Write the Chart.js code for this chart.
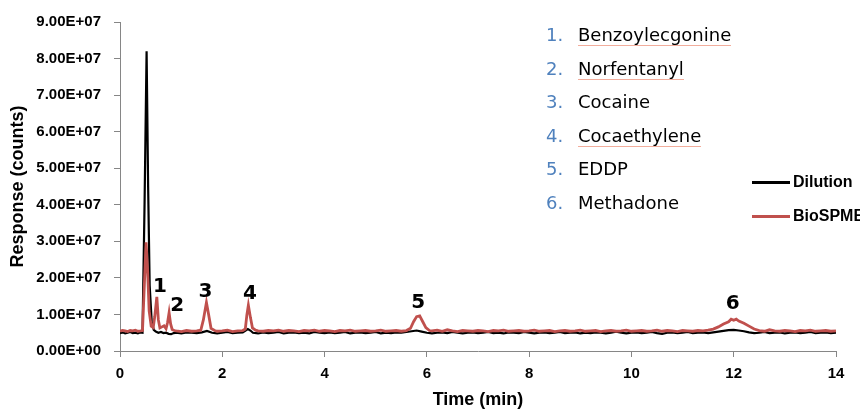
<!DOCTYPE html>
<html>
<head>
<meta charset="utf-8">
<title>Chromatogram</title>
<script src="https://cdn.jsdelivr.net/npm/chart.js@4.4.1/dist/chart.umd.min.js"></script>
<style>
  html, body { margin: 0; padding: 0; background: #fff; }
  #wrap { position: relative; width: 860px; height: 412px; overflow: hidden; }
  #chart { position: absolute; left: 0; top: 0; }
  .compounds {
    position: absolute; left: 546px; top: 18px; margin: 0; padding: 0; list-style: none;
    font-family: 'DejaVu Sans', Verdana, sans-serif; font-size: 18px; color: #000;
  }
  .compounds li { height: 33.6px; line-height: 33.6px; white-space: nowrap; }
  .compounds .num { display: inline-block; width: 32px; color: #4f81bd; }
  .squiggle { border-bottom: 1px solid #f2ad9c; }
  .legend-item {
    position: absolute; left: 752px; height: 24px; display: flex; align-items: center;
    white-space: nowrap; font: bold 16px 'Liberation Sans', Arial, sans-serif;
  }
  .legend-item .swatch { display: inline-block; width: 38px; height: 3px; margin-right: 3px; }
</style>
</head>
<body>
<div id="wrap">
  <canvas id="chart" width="860" height="412"></canvas>
  <ul class="compounds">
    <li><span class="num">1.</span><span class="squiggle">Benzoylecgonine</span></li>
    <li><span class="num">2.</span><span class="squiggle">Norfentanyl</span></li>
    <li><span class="num">3.</span>Cocaine</li>
    <li><span class="num">4.</span><span class="squiggle">Cocaethylene</span></li>
    <li><span class="num">5.</span>EDDP</li>
    <li><span class="num">6.</span>Methadone</li>
  </ul>
  <div class="legend-item" style="top:170px"><span class="swatch" style="background:#000"></span>Dilution</div>
  <div class="legend-item" style="top:204px"><span class="swatch" style="background:#c0504d"></span>BioSPME</div>
</div>
<script>
// time in min, response in millions of counts
const timeDilution = [
  0, 0.05, 0.1, 0.15, 0.2, 0.25, 0.3, 0.35, 0.4, 0.44, 0.48, 0.52, 0.55, 0.58, 0.62, 0.66,
  0.7, 0.75, 0.8, 0.85, 0.9, 0.95, 1.0, 1.05, 1.1, 1.2, 1.3, 1.4, 1.5, 1.6, 1.7, 1.8, 1.9,
  2.0, 2.1, 2.2, 2.3, 2.4, 2.5, 2.55, 2.6, 2.7, 2.8, 2.9, 3.0, 3.1, 3.2, 3.3, 3.4, 3.5, 3.6,
  3.7, 3.8, 3.9, 4.0, 4.1, 4.2, 4.3, 4.4, 4.5, 4.6, 4.7, 4.8, 4.9, 5.0, 5.1, 5.2, 5.3, 5.4,
  5.5, 5.6, 5.7, 5.8, 5.9, 6.0, 6.1, 6.2, 6.3, 6.4, 6.5, 6.6, 6.7, 6.8, 6.9, 7.0, 7.1, 7.2,
  7.3, 7.4, 7.5, 7.6, 7.7, 7.8, 7.9, 8.0, 8.1, 8.2, 8.3, 8.4, 8.5, 8.6, 8.7, 8.8, 8.9, 9.0,
  9.1, 9.2, 9.3, 9.4, 9.5, 9.6, 9.7, 9.8, 9.9, 10.0, 10.1, 10.2, 10.3, 10.4, 10.5, 10.6,
  10.7, 10.8, 10.9, 11.0, 11.1, 11.2, 11.3, 11.4, 11.5, 11.6, 11.7, 11.8, 11.9, 12.0, 12.1,
  12.2, 12.3, 12.4, 12.5, 12.6, 12.7, 12.8, 12.9, 13.0, 13.1, 13.2, 13.3, 13.4, 13.5, 13.6,
  13.7, 13.8, 13.9, 14.0
];
const respDilution = [
  4.9, 5.1, 4.8, 5.0, 5.2, 4.9, 5.0, 4.8, 5.1, 5.0, 40, 82, 45, 18, 8.0, 5.8,
  5.3, 5.0, 5.2, 4.9, 5.0, 4.7, 4.6, 4.9, 5.0, 4.8, 5.1, 5.0, 4.9, 5.1, 5.5, 5.0, 4.8,
  5.0, 5.2, 4.9, 5.0, 5.1, 6.0, 5.6, 5.0, 4.8, 5.1, 4.9, 5.0, 5.2, 4.8, 5.0, 5.1, 4.9, 5.0,
  4.8, 5.2, 5.0, 4.9, 5.1, 4.9, 5.0, 5.2, 4.8, 5.0, 5.1, 4.9, 5.0, 5.2, 4.8, 5.0, 4.9, 5.1,
  5.0, 5.2, 5.4, 5.6, 5.3, 5.0, 4.8, 5.0, 5.1, 4.9, 5.2, 5.0, 4.8, 5.0, 5.1, 4.9, 5.0, 5.2,
  4.9, 5.0, 4.8, 5.1, 5.0, 4.9, 5.2, 5.0, 4.8, 5.0, 5.1, 4.9, 5.0, 5.2, 4.9, 5.0, 5.1, 4.8,
  5.0, 4.9, 5.1, 5.0, 4.8, 5.0, 5.3, 5.0, 4.8, 5.0, 5.1, 4.9, 5.0, 5.2, 4.9, 4.7,
  5.0, 5.1, 4.9, 5.0, 5.2, 4.9, 5.0, 5.1, 4.9, 5.1, 5.3, 5.5, 5.7, 5.8, 5.6,
  5.4, 5.1, 4.9, 5.0, 5.2, 4.9, 5.0, 5.1, 4.8, 5.0, 5.1, 4.9, 5.0, 5.2, 4.9,
  5.0, 5.1, 4.9, 5.0
];
const timeBioSPME = [
  0, 0.05, 0.1, 0.15, 0.2, 0.25, 0.3, 0.35, 0.4, 0.44, 0.47, 0.51, 0.54, 0.57, 0.61, 0.65,
  0.68, 0.72, 0.75, 0.78, 0.82, 0.86, 0.9, 0.93, 0.96, 0.99, 1.02, 1.06, 1.1, 1.2, 1.3, 1.4,
  1.5, 1.58, 1.63, 1.69, 1.73, 1.78, 1.85, 1.9, 2.0, 2.1, 2.2, 2.3, 2.4, 2.45, 2.48, 2.51,
  2.55, 2.59, 2.65, 2.7, 2.8, 2.9, 3.0, 3.1, 3.2, 3.3, 3.4, 3.5, 3.6, 3.7, 3.8, 3.9, 4.0,
  4.1, 4.2, 4.3, 4.4, 4.5, 4.6, 4.7, 4.8, 4.9, 5.0, 5.1, 5.2, 5.3, 5.4, 5.5, 5.6, 5.68,
  5.74, 5.8, 5.86, 5.92, 5.98, 6.05, 6.1, 6.2, 6.3, 6.4, 6.5, 6.6, 6.7, 6.8, 6.9, 7.0, 7.1,
  7.2, 7.3, 7.4, 7.5, 7.6, 7.7, 7.8, 7.9, 8.0, 8.1, 8.2, 8.3, 8.4, 8.5, 8.6, 8.7, 8.8, 8.9,
  9.0, 9.1, 9.2, 9.3, 9.4, 9.5, 9.6, 9.7, 9.8, 9.9, 10.0, 10.1, 10.2, 10.3, 10.4, 10.5,
  10.6, 10.7, 10.8, 10.9, 11.0, 11.1, 11.2, 11.3, 11.4, 11.5, 11.6, 11.7, 11.8, 11.9, 11.95,
  12.0, 12.05, 12.1, 12.2, 12.3, 12.4, 12.5, 12.6, 12.7, 12.8, 12.9, 13.0, 13.1, 13.2, 13.3,
  13.4, 13.5, 13.6, 13.7, 13.8, 13.9, 14.0
];
const respBioSPME = [
  5.4, 5.6, 5.5, 5.3, 5.6, 5.5, 5.7, 5.4, 5.5, 5.6, 16, 29.7, 22, 11, 6.8, 6.4,
  9.5, 14.8, 8.5, 6.3, 6.6, 6.9, 6.1, 7.8, 10.5, 7.4, 5.9, 5.6, 5.5, 5.3, 5.6, 5.4,
  5.5, 5.7, 8.5, 13.3, 10.2, 6.2, 5.6, 5.4, 5.5, 5.7, 5.3, 5.5, 5.6, 6.0, 9.8, 12.5,
  9.2, 6.3, 5.7, 5.5, 5.4, 5.6, 5.5, 5.7, 5.4, 5.6, 5.5, 5.3, 5.6, 5.5, 5.7, 5.4, 5.6,
  5.5, 5.3, 5.6, 5.5, 5.7, 5.4, 5.5, 5.6, 5.4, 5.5, 5.7, 5.4, 5.5, 5.6, 5.4, 5.6, 6.2,
  8.0, 9.4, 9.6, 8.0, 6.4, 5.6, 5.5, 5.7, 5.4, 5.8, 5.5, 5.3, 5.6, 5.5, 5.4, 5.6, 5.5,
  5.3, 5.6, 5.5, 5.7, 5.4, 5.5, 5.6, 5.4, 5.5, 5.7, 5.4, 5.5, 5.6, 5.3, 5.5, 5.6, 5.4, 5.5,
  5.7, 5.4, 5.5, 5.6, 5.3, 5.5, 5.6, 5.4, 5.5, 5.7, 5.4, 5.5, 5.6, 5.4, 5.5, 5.7,
  5.4, 5.6, 5.5, 5.3, 5.6, 5.5, 5.4, 5.6, 5.5, 5.7, 6.0, 6.6, 7.4, 8.0, 8.7,
  8.4, 8.7, 8.2, 7.6, 6.8, 6.0, 5.6, 5.4, 5.8, 5.5, 5.4, 5.6, 5.5, 5.3, 5.6,
  5.5, 5.7, 5.4, 5.5, 5.6, 5.4, 5.5
];

// peak number labels, anchored at (time, response) of the label centre
const peakLabels = ['1', '2', '3', '4', '5', '6'];
const peakLabelTime = [0.78, 1.12, 1.67, 2.54, 5.83, 11.98];
const peakLabelResp = [18.1, 12.8, 16.6, 16.1, 13.6, 13.4];

const xTicks = [0, 2, 4, 6, 8, 10, 12, 14];
const yMax = 90;

const axisGray = '#868686';
const sansBold = "'Liberation Sans', Arial, sans-serif";

function toPoints(times, values) {
  return times.map((t, i) => ({ x: t, y: values[i] }));
}

function sciLabel(v) {
  // values are in millions, label like 9.00E+07
  if (v === 0) return '0.00E+00';
  const s = (v * 1e6).toExponential(2).toUpperCase();
  return s.replace(/E([+-])(\d)$/, 'E$10$2');
}

const peakLabelPlugin = {
  id: 'peakLabels',
  afterDatasetsDraw(chart) {
    const { ctx, scales: { x, y } } = chart;
    ctx.save();
    ctx.font = 'bold 20px "DejaVu Sans", sans-serif';
    ctx.fillStyle = '#000';
    ctx.textAlign = 'center';
    ctx.textBaseline = 'alphabetic';
    peakLabels.forEach((txt, i) => {
      ctx.fillText(txt, x.getPixelForValue(peakLabelTime[i]), y.getPixelForValue(peakLabelResp[i]) + 7);
    });
    ctx.restore();
  }
};

new Chart(document.getElementById('chart'), {
  type: 'line',
  data: {
    datasets: [
      {
        label: 'Dilution',
        data: toPoints(timeDilution, respDilution),
        borderColor: '#000000',
        borderWidth: 2.2,
        pointRadius: 0,
        tension: 0,
        order: 2
      },
      {
        label: 'BioSPME',
        data: toPoints(timeBioSPME, respBioSPME),
        borderColor: '#c0504d',
        borderWidth: 2.8,
        pointRadius: 0,
        tension: 0,
        order: 1
      }
    ]
  },
  options: {
    responsive: false,
    animation: false,
    events: [],
    layout: { padding: { top: 21, right: 24, left: 0, bottom: 0 } },
    plugins: {
      legend: { display: false },
      tooltip: { enabled: false }
    },
    scales: {
      x: {
        type: 'linear',
        min: xTicks[0],
        max: xTicks[xTicks.length - 1],
        afterBuildTicks: s => { s.ticks = xTicks.map(v => ({ value: v })); },
        afterFit: s => { s.height = 61; },
        border: { color: axisGray, width: 1 },
        grid: { drawOnChartArea: false, drawTicks: true, tickLength: 6, color: axisGray },
        ticks: { color: '#000', padding: 8, maxRotation: 0, font: { family: sansBold, size: 15, weight: 'bold' } },
        title: {
          display: true, text: 'Time (min)', color: '#000',
          font: { family: sansBold, size: 18, weight: 'bold', lineHeight: 1 },
          padding: { top: 0, bottom: 3 }
        }
      },
      y: {
        min: 0,
        max: yMax,
        afterFit: s => { s.width = 120; },
        border: { color: axisGray, width: 1 },
        grid: { drawOnChartArea: false, drawTicks: true, tickLength: 6, color: axisGray },
        ticks: { stepSize: 10, color: '#000', padding: 13, callback: sciLabel, font: { family: sansBold, size: 15, weight: 'bold' } },
        title: {
          display: true, text: 'Response (counts)', color: '#000',
          font: { family: sansBold, size: 18, weight: 'bold', lineHeight: 1 },
          padding: { top: 9, bottom: 0 }
        }
      }
    }
  },
  plugins: [peakLabelPlugin]
});
</script>
</body>
</html>
